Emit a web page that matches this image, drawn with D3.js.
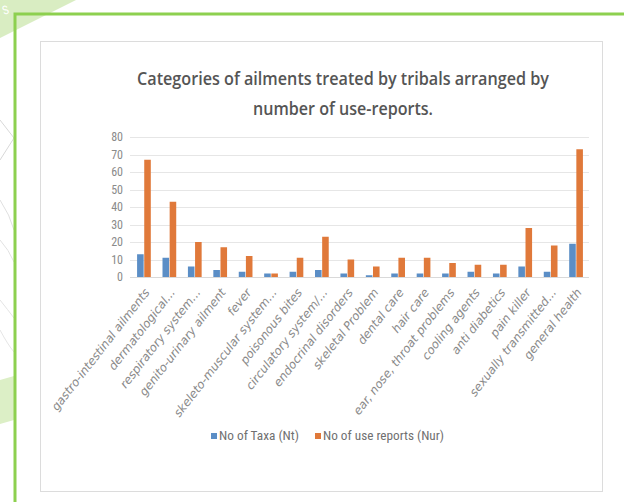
<!DOCTYPE html>
<html>
<head>
<meta charset="utf-8">
<script src="https://cdn.jsdelivr.net/npm/d3@7/dist/d3.min.js"></script>
<style>
  html, body { margin: 0; padding: 0; background: #fff; }
  svg { display: block; }
</style>
</head>
<body>
<svg id="chart" width="624" height="502"></svg>
<script>
// Ailment categories and the two counts recorded for each
const categories = [
  "gastro-intestinal ailments", "dermatological...", "respiratory system...",
  "genito-urinary ailment", "fever", "skeleto-muscular system...",
  "poisonous bites", "circulatory system/...", "endocrinal disorders",
  "skeletal Problem", "dental care", "hair care",
  "ear, nose, throat problems", "cooling agents", "anti diabetics",
  "pain killer", "sexually transmitted...", "general health"
];
const taxaCounts = [13, 11, 6, 4, 3, 2, 3, 4, 2, 1, 2, 2, 2, 3, 2, 6, 3, 19];
const useReports = [67, 43, 20, 17, 12, 2, 11, 23, 10, 6, 11, 11, 8, 7, 7, 28, 18, 73];
const seriesNames = ["No of Taxa (Nt)", "No of use reports (Nur)"];
const seriesColors = ["#5b8ec6", "#e0793a"];
const yTicks = [0, 10, 20, 30, 40, 50, 60, 70, 80];
const titleLines = [
  "Categories of ailments treated by tribals arranged by",
  "number of use-reports."
];

const svg = d3.select("#chart");
const font = "'Liberation Sans Narrow', 'Roboto Condensed', 'Liberation Sans', sans-serif";

// --- page decoration behind the card ---
const deco = svg.append("g");
deco.append("path").attr("d", "M0,0 L76,0 L0,38 Z").attr("fill", "#d9edc2");
deco.append("text").attr("x", 4).attr("y", 15).attr("fill", "#fff")
  .attr("font-family", font).attr("font-size", 12).attr("transform", "rotate(-20,4,15)").text("S");
deco.append("path").attr("d", "M0,380 L14,376 L14,420 L0,424 Z").attr("fill", "#dcefc6");
[["M0,120 L14,138 L0,160", "#d8d8d8"], ["M0,200 Q10,215 14,230", "#e0e0e0"],
 ["M0,240 Q9,250 14,262", "#e2e2e2"], ["M0,300 Q8,310 14,318", "#e4e4e4"],
 ["M0,330 Q8,345 14,352", "#e6e6e6"]].forEach(([d, c]) =>
  deco.append("path").attr("d", d).attr("fill", "none").attr("stroke", c).attr("stroke-width", 1));

// green frame
svg.append("path").attr("d", "M15,502 L15,14 L624,14")
  .attr("fill", "none").attr("stroke", "#8dd04f").attr("stroke-width", 3);

// chart card
svg.append("rect").attr("x", 40.5).attr("y", 41.5).attr("width", 562).attr("height", 450)
  .attr("fill", "#fff").attr("stroke", "#dcdcdc").attr("stroke-width", 1);

// --- title ---
const titleFont = "'Open Sans', 'Liberation Sans Narrow', sans-serif";
svg.append("text").attr("x", 343).attr("y", 85).attr("text-anchor", "middle")
  .attr("font-family", titleFont).attr("font-size", 18.5).attr("font-weight", 600)
  .attr("fill", "#555").attr("textLength", 412).attr("lengthAdjust", "spacingAndGlyphs")
  .text(titleLines[0]);
svg.append("text").attr("x", 343).attr("y", 115).attr("text-anchor", "middle")
  .attr("font-family", titleFont).attr("font-size", 18.5).attr("font-weight", 600)
  .attr("fill", "#555").attr("textLength", 180).attr("lengthAdjust", "spacingAndGlyphs")
  .text(titleLines[1]);

// --- scales ---
const x0 = d3.scaleBand().domain(categories).range([132, 588]).paddingInner(0.46).paddingOuter(0.2);
const x1 = d3.scaleBand().domain(seriesNames).range([0, x0.bandwidth()]).paddingInner(0.08);
const y = d3.scaleLinear().domain([0, 80]).range([277, 137]);

// gridlines
svg.append("g").selectAll("line").data(yTicks.filter(t => t > 0)).join("line")
  .attr("x1", 130).attr("x2", 589)
  .attr("y1", d => Math.round(y(d)) + 0.5).attr("y2", d => Math.round(y(d)) + 0.5)
  .attr("stroke", "#e6e6e6").attr("stroke-width", 1);

// y axis labels
const yAxis = d3.axisLeft(y).tickValues(yTicks).tickSize(0).tickPadding(0);
const yg = svg.append("g").attr("transform", "translate(123,0)").call(yAxis);
yg.select(".domain").remove();
yg.selectAll("text").attr("font-family", font).attr("font-size", 12).attr("fill", "#8a8a8a");

// bars
const rows = categories.map((c, i) => ({ cat: c, values: [taxaCounts[i], useReports[i]] }));
const groups = svg.append("g").selectAll("g").data(rows).join("g")
  .attr("transform", d => `translate(${x0(d.cat)},0)`);
groups.selectAll("rect").data(d => d.values.map((v, k) => ({ k, v }))).join("rect")
  .attr("x", d => x1(seriesNames[d.k]))
  .attr("width", x1.bandwidth())
  .attr("y", d => y(d.v))
  .attr("height", d => y(0) - y(d.v))
  .attr("fill", d => seriesColors[d.k]);

// baseline
svg.append("line").attr("x1", 130).attr("x2", 589).attr("y1", 277.5).attr("y2", 277.5)
  .attr("stroke", "#d9d9d9").attr("stroke-width", 1);

// category labels
const xAxis = d3.axisBottom(x0).tickSize(0).tickPadding(0);
const xg = svg.append("g").call(xAxis);
xg.select(".domain").remove();
xg.selectAll(".tick").attr("transform", d => `translate(${x0(d) + x0.bandwidth() / 2 + 3},290)`);
xg.selectAll("text")
  .attr("font-family", "'DejaVu Sans', sans-serif").attr("font-size", 11.8)
  .attr("font-style", "italic").attr("fill", "#8a8a8a")
  .attr("text-anchor", "end").attr("x", 0).attr("y", 0).attr("dy", "0.35em")
  .attr("transform", "rotate(-52)");

// legend
const legendItems = [{ x: 211, w: 80 }, { x: 315, w: 121 }];
const lg = svg.append("g");
seriesNames.forEach((name, i) => {
  lg.append("rect").attr("x", legendItems[i].x).attr("y", 433).attr("width", 6).attr("height", 6)
    .attr("fill", seriesColors[i]);
  lg.append("text").attr("x", legendItems[i].x + 8).attr("y", 440)
    .attr("font-family", font).attr("font-size", 12).attr("fill", "#707070")
    .attr("textLength", legendItems[i].w).attr("lengthAdjust", "spacingAndGlyphs")
    .text(name);
});
</script>
</body>
</html>
